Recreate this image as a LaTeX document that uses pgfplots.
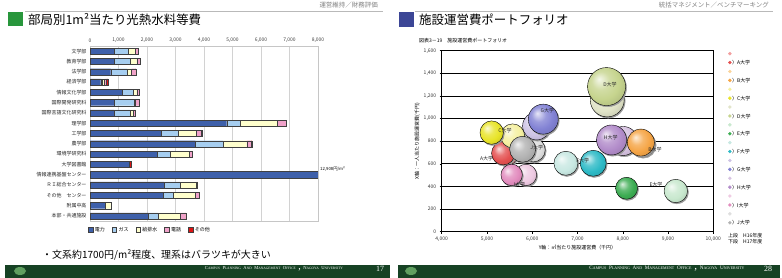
\documentclass[border=0pt]{standalone}
\usepackage{fontspec}
\setmainfont{Noto Sans CJK JP}
\newfontfamily\seriffont{Liberation Serif}
\usepackage{graphicx}
\usepackage{pgfplots}
\usepackage{pgfplotstable}
\pgfplotsset{compat=1.18}
\makeatletter
\pgfdeclareradialshading[tikz@ball]{ball}{\pgfqpoint{-10bp}{10bp}}{%
  color(0bp)=(tikz@ball!20!white); color(12bp)=(tikz@ball!80!white);
  color(22bp)=(tikz@ball); color(36bp)=(tikz@ball!85!black); color(50bp)=(tikz@ball!60!black)}
\makeatother
\newcommand\fs[1]{\fontsize{#1}{#1}\selectfont}
\newcommand\SC[2]{{\fs{4.6}#1}{\fs{3.5}#2}}
\definecolor{titlegreen}{RGB}{40,150,60}
\definecolor{titleblue}{RGB}{60,70,150}
\definecolor{footgreen}{RGB}{22,66,36}
\definecolor{cElec}{RGB}{62,96,170}
\definecolor{cGas}{RGB}{166,206,240}
\definecolor{cWater}{RGB}{255,255,204}
\definecolor{cPhone}{RGB}{240,162,202}
\definecolor{cOther}{RGB}{222,20,20}
% bubble colours (light = H16, dark = H17)
\definecolor{Alight}{RGB}{242,160,160}\definecolor{Adark}{RGB}{228,80,80}
\definecolor{Blight}{RGB}{250,212,156}\definecolor{Bdark}{RGB}{245,165,70}
\definecolor{Clight}{RGB}{245,240,160}\definecolor{Cdark}{RGB}{232,228,40}
\definecolor{Dlight}{RGB}{225,228,200}\definecolor{Ddark}{RGB}{198,212,142}
\definecolor{Elight}{RGB}{200,232,206}\definecolor{Edark}{RGB}{60,172,82}
\definecolor{Flight}{RGB}{200,232,226}\definecolor{Fdark}{RGB}{45,186,198}
\definecolor{Glight}{RGB}{205,195,228}\definecolor{Gdark}{RGB}{130,130,212}
\definecolor{Hlight}{RGB}{215,195,225}\definecolor{Hdark}{RGB}{178,140,202}
\definecolor{Ilight}{RGB}{238,202,226}\definecolor{Idark}{RGB}{226,140,190}
\definecolor{Jlight}{RGB}{222,222,222}\definecolor{Jdark}{RGB}{178,178,178}

\pgfplotstableread{
idx elec gas water phone other
0 842 503 234 117 10
1 842 562 233 117 10
2 725 585 140 152 10
3 374 60 80 70 45
4 1134 375 128 82 5
5 842 702 35 140 5
6 842 562 116 70 5
7 4796 467 1312 302 10
8 2503 585 650 170 10
9 3700 967 831 165 20
10 2363 444 667 110 10
11 1370 0 0 0 80
12 12908 0 0 0 0
13 2596 562 575 33 5
14 2561 363 760 150 5
15 520 0 205 0 0
16 2047 339 772 200 5
}\bukyoku

\newcommand\bubble[4]{%
  \addplot[only marks, mark=*, mark size=#3bp, color=black!40, mark options={xshift=1bp,yshift=-1.2bp}, forget plot] coordinates {(#1,#2)};
  \addplot[only marks, mark=ball, mark size=#3bp, mark options={ball color=#4}, forget plot] coordinates {(#1,#2)};
}
\newcommand\ldot[2]{\addlegendimage{legend image code/.code={\fill[#1] (0bp,0bp) circle (1.5bp);}}\addlegendentry{#2}}

\begin{document}
\begin{tikzpicture}
\useasboundingbox (0bp,0bp) rectangle (782bp,-278bp);
\begin{scope}[x=1bp,y=-1bp]
  % ---------- left slide decorations
  \fill[titlegreen] (8,12) rectangle (23,26);
  \draw[gray!55, line width=0.8bp] (25,11) -- (383,11);
  \node[anchor=base west, font=\fs{12.5}, inner sep=0] at (28,24.8) {部局別1m²当たり光熱水料等費};
  \node[anchor=east, font=\fs{6.5}, text=gray, inner sep=0] at (378,5.5) {運営維持／財務評価};
  \node[anchor=west, font=\fs{10}, inner sep=0] at (42,255) {・文系約1700円/m²程度、理系はバラツキが大きい};
  \node[anchor=west, font=\fs{4.3}, inner sep=0] at (320,169) {12,908円/m²};
  \fill[footgreen] (5,265) rectangle (390,278);
  \fill[green!25!gray] (20,271) ellipse (6 and 4);
  \node[text=white, inner sep=0] at (274,268.5) {\resizebox{138bp}{!}{\seriffont\SC{C}{AMPUS} \SC{P}{LANNING} \SC{A}{ND} \SC{M}{ANAGEMENT} \SC{O}{FFICE} , \SC{N}{AGOYA} \SC{U}{NIVERSITY}}};
  \node[text=white, font=\seriffont\fs{8}, inner sep=0] at (380,268.5) {17};
  % ---------- right slide decorations
  \fill[titleblue] (399,12) rectangle (414,27);
  \draw[gray!55, line width=0.8bp] (415,11) -- (773,11);
  \node[anchor=base west, font=\fs{12.5}, inner sep=0] at (419,24.8) {施設運営費ポートフォリオ};
  \node[anchor=east, font=\fs{6.5}, text=gray, inner sep=0] at (769,5.5) {統括マネジメント／ベンチマーキング};
  \node[anchor=west, font=\fs{5}, inner sep=0] at (419,40.7) {図表3－19　施設運営費ポートフォリオ};
  \node[anchor=west, font=\fs{5}, inner sep=0] at (728,236) {上段　H16年度};
  \node[anchor=west, font=\fs{5}, inner sep=0] at (728,242) {下段　H17年度};
  \fill[footgreen] (398,265) rectangle (780,278);
  \fill[green!25!gray] (411,271) ellipse (6 and 4);
  \node[text=white, inner sep=0] at (667,268.5) {\resizebox{155bp}{!}{\seriffont\SC{C}{AMPUS} \SC{P}{LANNING} \SC{A}{ND} \SC{M}{ANAGEMENT} \SC{O}{FFICE} , \SC{N}{AGOYA} \SC{U}{NIVERSITY}}};
  \node[text=white, font=\seriffont\fs{8}, inner sep=0] at (768,268.5) {28};
\end{scope}

% ================= left chart
\begin{axis}[
  at={(90bp,-221bp)}, anchor=south west, scale only axis,
  width=228bp, height=175bp,
  xbar stacked, bar width=0.6,
  xmin=0, xmax=8000, ymin=-0.5, ymax=16.5, y dir=reverse,
  xtick={0,1000,...,8000}, xticklabel pos=upper,
  ytick={0,...,16},
  yticklabels={文学部,教育学部,法学部,経済学部,情報文化学部,国際開発研究科,国際言語文化研究科,理学部,工学部,農学部,環境学研究科,大学図書館,情報連携基盤センター,ＲＩ総合センター,その他　センター,附属中高,本部・共通施設},
  xmajorgrids, grid style={gray!35, line width=0.4bp},
  axis line style={gray!45, line width=0.4bp},
  major tick length=0pt,
  xticklabel style={font=\fs{5}, text=black!75},
  yticklabel style={font=\fs{5}, text=black!85},
  /pgf/number format/.cd, 1000 sep={,}, assume math mode=true, /pgfplots/.cd,
  every axis plot/.append style={draw=black!75, line width=0.3bp},
  legend columns=5,
  legend style={at={(0.263,-0.052)}, anchor=center, draw=none, fill=none,
    font=\fs{5}, /tikz/every even column/.append style={column sep=5bp}},
  legend image code/.code={\draw[#1,line width=0.3bp] (0bp,-2bp) rectangle (4.5bp,2.5bp);},
]
\addplot[fill=cElec] table[x=elec,y=idx]{\bukyoku};
\addplot[fill=cGas] table[x=gas,y=idx]{\bukyoku};
\addplot[fill=cWater] table[x=water,y=idx]{\bukyoku};
\addplot[fill=cPhone] table[x=phone,y=idx]{\bukyoku};
\addplot[fill=cOther] table[x=other,y=idx]{\bukyoku};
\legend{電力,ガス,給排水,電話,その他}
\end{axis}

% ================= right chart
\begin{axis}[
  at={(441.7bp,-231.7bp)}, anchor=south west, scale only axis,
  width=271.6bp, height=181bp,
  xmin=4000, xmax=10000, ymin=0, ymax=1600,
  xtick={4000,5000,...,10000}, ytick={0,200,...,1600},
  scaled x ticks=false, scaled y ticks=false,
  ymajorgrids, grid style={black, line width=0.8bp},
  axis line style={black, line width=0.8bp},
  tick align=outside, major tick length=2bp, tick style={black, line width=0.5bp},
  xtick pos=bottom, ytick pos=left,
  ticklabel style={font=\fs{5}, text=black!80},
  /pgf/number format/.cd, 1000 sep={,}, assume math mode=true, /pgfplots/.cd,
  xlabel={Y軸：㎡当たり施設運営費（千円）}, xlabel style={font=\fs{5}, yshift=3bp},
  ylabel={X軸：一人当たり施設運営費(千円)}, ylabel style={font=\fs{5}, yshift=-3bp},
  clip=false,
  legend style={at={(1.054,1.0094)}, anchor=north west, draw=none, fill=none,
    font=\fs{5}, row sep=0pt, inner sep=0pt,
    nodes={inner sep=0.6bp, minimum height=8.9bp, text depth=0pt}},
  legend cell align=left,
]
\bubble{5430}{680}{11}{Alight}
\bubble{5360}{694}{11.7}{Adark}
\bubble{5567}{847}{12}{Clight}
\bubble{5104}{876}{11.7}{Cdark}
\bubble{6022}{723}{12}{Jlight}
\bubble{5788}{729}{13}{Jdark}
\bubble{5861}{502}{10.7}{Ilight}
\bubble{5545}{502}{10.7}{Idark}
\bubble{6097}{935}{14}{Glight}
\bubble{6243}{995}{15}{Gdark}
\bubble{6744}{605}{12}{Flight}
\bubble{7347}{605}{13}{Fdark}
\bubble{8009}{802}{14.5}{Hlight}
\bubble{7753}{811}{15}{Hdark}
\bubble{8430}{775}{13}{Blight}
\bubble{8400}{788}{13.5}{Bdark}
\bubble{7656}{1165}{17}{Dlight}
\bubble{7642}{1283}{19}{Ddark}
\bubble{9172}{360}{11.7}{Elight}
\bubble{8084}{384}{11}{Edark}
\ldot{Alight}{}
\ldot{Adark}{〉A大学}
\ldot{Blight}{}
\ldot{Bdark}{〉B大学}
\ldot{Clight}{}
\ldot{Cdark}{〉C大学}
\ldot{Dlight}{}
\ldot{Ddark}{〉D大学}
\ldot{Elight}{}
\ldot{Edark}{〉E大学}
\ldot{Flight}{}
\ldot{Fdark}{〉F大学}
\ldot{Glight}{}
\ldot{Gdark}{〉G大学}
\ldot{Hlight}{}
\ldot{Hdark}{〉H大学}
\ldot{Ilight}{}
\ldot{Idark}{〉I大学}
\ldot{Jlight}{}
\ldot{Jdark}{〉J大学}
\end{axis}

% bubble name labels (text on top of the bubbles)
\begin{scope}[x=1bp,y=-1bp, every node/.style={font=\fs{5}, inner sep=0, text=black!85}]
  \node at (486.7,159) {A大学};
  \node at (505,130.3) {C大学};
  \node at (547.3,111) {G大学};
  \node at (536.7,147.3) {J大学};
  \node at (519.3,185) {I大学};
  \node at (582.7,161) {F大学};
  \node at (610.7,137.7) {H大学};
  \node at (655,149.3) {B大学};
  \node at (610,85) {D大学};
  \node at (656,185) {E大学};
\end{scope}
\end{tikzpicture}
\end{document}
